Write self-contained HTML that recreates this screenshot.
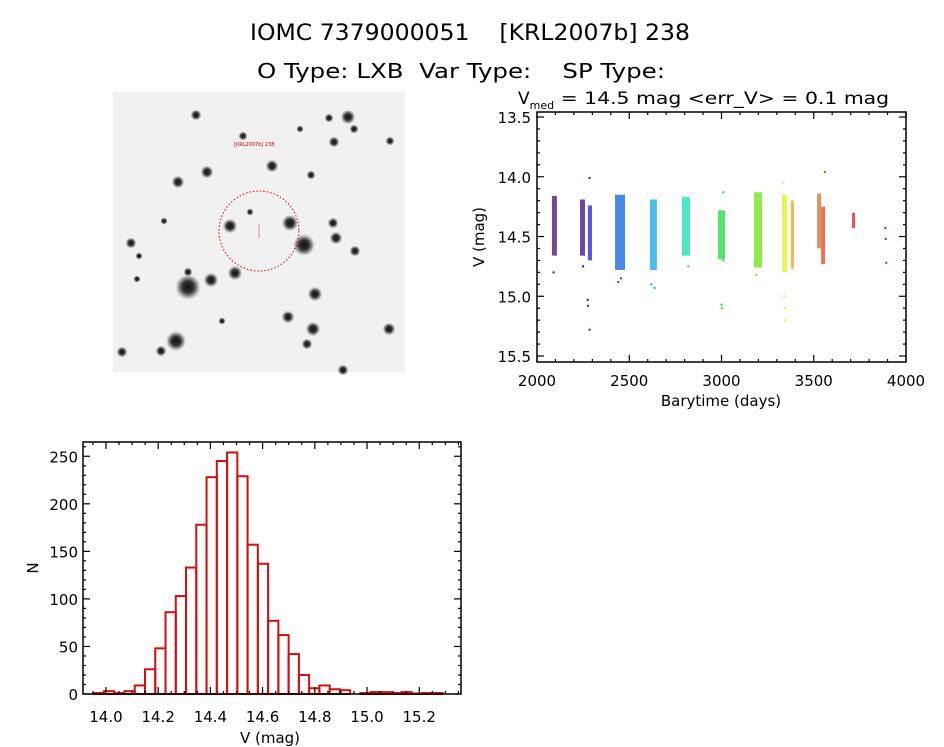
<!DOCTYPE html>
<html><head><meta charset="utf-8"><style>
html,body{margin:0;padding:0;background:#fff}
svg{display:block;font-family:"DejaVu Sans","Liberation Sans",sans-serif}
text{white-space:pre}
</style></head><body>
<svg id="root" width="944" height="747" viewBox="0 0 944 747" xmlns="http://www.w3.org/2000/svg" xml:space="preserve">
<defs>
<radialGradient id="starg"><stop offset="0" stop-color="#111"/><stop offset="0.45" stop-color="#333"/><stop offset="0.75" stop-color="#888" stop-opacity="0.7"/><stop offset="1" stop-color="#ddd" stop-opacity="0"/></radialGradient>
</defs>
<text x="250" y="40" font-size="22" textLength="440" lengthAdjust="spacingAndGlyphs">IOMC 7379000051    [KRL2007b] 238</text>
<text x="257" y="78" font-size="20" textLength="408" lengthAdjust="spacingAndGlyphs">O Type: LXB  Var Type:    SP Type:</text>
<text x="518" y="104" font-size="17">V<tspan font-size="11" dy="5">med</tspan><tspan dy="-5" textLength="335" lengthAdjust="spacingAndGlyphs"> = 14.5 mag &lt;err_V&gt; = 0.1 mag</tspan></text>
<g id="img"></g>
<g id="lc"></g>
<g id="hist"></g>
</svg>
<script>
// ---- light curve data ----
const seasonStart=[2081,2233,2276,2423,2612,2786,2981,3176,3328,3376,3518,3540,3707];
const seasonEnd  =[2108,2260,2298,2477,2650,2829,3019,3220,3355,3393,3540,3561,3724];
const coreLo=[14.16,14.19,14.24,14.15,14.19,14.17,14.28,14.13,14.15,14.20,14.14,14.25,14.30];
const coreHi=[14.66,14.66,14.70,14.78,14.78,14.66,14.69,14.76,14.80,14.77,14.60,14.73,14.43];
const seasonColor=["#4b0a6e","#3a0a8a","#2020d0","#0a60e0","#10a8e8","#10e0b0","#20d840","#70e010","#e0f020","#f0a020","#c87030","#f04010","#d02020"];
const ptTime=[2285,2275,2277,2285,2440,2455,2620,2638,2820,3000,3002,3010,3010,3190,3335,3340,3342,3345,3560,3888,3890,3893,2090,2250];
const ptMag =[14.01,15.03,15.08,15.28,14.88,14.85,14.90,14.93,14.75,15.07,15.10,14.70,14.13,14.82,14.05,15.00,15.10,15.20,13.96,14.43,14.52,14.72,14.80,14.75];
const ptColor=["#2020d0","#3a0a8a","#3a0a8a","#2020d0","#0a60e0","#0a60e0","#10a8e8","#10a8e8","#10e0b0","#20d840","#20d840","#20d840","#20d840","#70e010","#e0f020","#e0f020","#e0f020","#e0f020","#f04010","#c02020","#c02020","#c02020","#4b0a6e","#3a0a8a"];
const lcXTicks=[2000,2500,3000,3500,4000];
const lcYTicks=[13.5,14.0,14.5,15.0,15.5];
// ---- histogram data ----
const binStart=13.953, binWidth=0.0393;
const counts=[1,3,1,3,9,26,48,86,103,133,178,228,245,254,229,157,137,77,62,42,20,6,9,5,4,0,1,2,2,1,2,0.5,1,1];
const hXTicks=[14.0,14.2,14.4,14.6,14.8,15.0,15.2];
const hYTicks=[0,50,100,150,200,250];
// ---- sky image stars ----
const starX=[196,348,329,354,243,300,334,390,272,207,311,178,250,230,290,333,336,304,355,131,139,164,188,211,235,188,315,288,313,389,176,161,122,307,343,222,137];
const starY=[115,117,118,129,136,129,142,141,166,172,175,182,212,226,223,223,238,245,251,243,256,221,287,280,273,272,294,317,329,329,341,351,352,344,370,321,279];
const starR=[3,4,2.5,2.5,2.5,2,3,2.5,3.5,3.5,2.5,3.5,2,4,4.5,3,3.5,6,3,3,2,2,7,4,4,2.5,4,3.5,4,3.5,5.5,3,3,3,3,2,2];

const NS="http://www.w3.org/2000/svg";
function mk(tag,attrs,parent){const e=document.createElementNS(NS,tag);for(const k in attrs)e.setAttribute(k,attrs[k]);parent.appendChild(e);return e;}

// sky image
const img=document.getElementById('img');
let bg=mk('rect',{x:113,y:92,width:292,height:280,fill:'#f1f1f1'},img);


starX.forEach((x,i)=>{
  let c=mk('circle',{cx:x,cy:starY[i],r:starR[i]*1.9,fill:'url(#starg)'},img);
  
  
});
let ap=mk('circle',{cx:259,cy:231,r:40,fill:'none',stroke:'#d00','stroke-width':1,'stroke-dasharray':'1.5,2'},img);


let cr=mk('line',{x1:259,y1:224,x2:259,y2:238,stroke:'#e88','stroke-width':1},img);


let lab=mk('text',{x:234,y:146,'font-size':5,fill:'#c00'},img);lab.textContent='[KRL2007b] 238';



// light curve
const lc=document.getElementById('lc');
const L={x0:537,x1:906,y0:112,y1:362,xmin:2000,xmax:4000,ymin:13.458,ymax:15.55};
const lx=v=>L.x0+(v-L.xmin)/(L.xmax-L.xmin)*(L.x1-L.x0);
const ly=v=>L.y0+(v-L.ymin)/(L.ymax-L.ymin)*(L.y1-L.y0);
seasonStart.forEach((s,i)=>{
  let r=mk('rect',{x:lx(s),y:ly(coreLo[i]),width:Math.max(2,lx(seasonEnd[i])-lx(s)),height:ly(coreHi[i])-ly(coreLo[i]),fill:seasonColor[i],opacity:0.75},lc);
  
  
});
ptTime.forEach((t,i)=>{
  let p=mk('rect',{x:lx(t)-1,y:ly(ptMag[i])-1,width:2,height:2,fill:ptColor[i]},lc);
  
  
});
let lf=mk('rect',{x:L.x0,y:L.y0,width:L.x1-L.x0,height:L.y1-L.y0,fill:'none',stroke:'#000','stroke-width':1.5},lc);


for(let v=2000;v<=4000;v+=100){const X=lx(v),len=(v%500===0)?7:3;
  mk('line',{x1:X,y1:L.y1,x2:X,y2:L.y1-len,stroke:'#000','stroke-width':1.2},lc);
  mk('line',{x1:X,y1:L.y0,x2:X,y2:L.y0+len,stroke:'#000','stroke-width':1.2},lc);}
for(let k=0;k<=20;k++){const v=13.5+k*0.1,Y=ly(v),len=(k%5===0)?7:3;
  mk('line',{x1:L.x0,y1:Y,x2:L.x0+len,y2:Y,stroke:'#000','stroke-width':1.2},lc);
  mk('line',{x1:L.x1,y1:Y,x2:L.x1-len,y2:Y,stroke:'#000','stroke-width':1.2},lc);}
lcXTicks.forEach(v=>{let t=mk('text',{x:lx(v),y:386,'font-size':15,'text-anchor':'middle'},lc);t.textContent=String(v);
  
  });
lcYTicks.forEach(v=>{let t=mk('text',{x:531,y:ly(v)+6,'font-size':15,'text-anchor':'end'},lc);t.textContent=v.toFixed(1);
  
  });
let lxt=mk('text',{x:721,y:406,'font-size':15,'text-anchor':'middle'},lc);lxt.textContent='Barytime (days)';


let lyt=mk('text',{x:0,y:0,'font-size':15,'text-anchor':'middle',transform:'translate(484,237) rotate(-90)'},lc);lyt.textContent='V (mag)';



// histogram
const hg=document.getElementById('hist');
const H={x0:83,x1:461,y0:442,y1:694,xmin:13.912,xmax:15.36,ymin:0,ymax:265};
const hx=v=>H.x0+(v-H.xmin)/(H.xmax-H.xmin)*(H.x1-H.x0);
const hy=v=>H.y1-(v-H.ymin)/(H.ymax-H.ymin)*(H.y1-H.y0);
counts.forEach((c,i)=>{const a=binStart+i*binWidth;
  let b=mk('rect',{x:hx(a),y:hy(c),width:hx(a+binWidth)-hx(a),height:hy(0)-hy(c),fill:'none',stroke:'#d01010','stroke-width':2},hg);
  
  
});
let hf=mk('rect',{x:H.x0,y:H.y0,width:H.x1-H.x0,height:H.y1-H.y0,fill:'none',stroke:'#000','stroke-width':1.5},hg);


for(let k=-1;k<=28;k++){const v=14.0+k*0.05;if(v<H.xmin||v>H.xmax)continue;const X=hx(v),len=(k%4===0)?7:3;
  mk('line',{x1:X,y1:H.y1,x2:X,y2:H.y1-len,stroke:'#000','stroke-width':1.2},hg);
  mk('line',{x1:X,y1:H.y0,x2:X,y2:H.y0+len,stroke:'#000','stroke-width':1.2},hg);}
for(let v=0;v<=260;v+=10){const Y=hy(v),len=(v%50===0)?7:3;
  mk('line',{x1:H.x0,y1:Y,x2:H.x0+len,y2:Y,stroke:'#000','stroke-width':1.2},hg);
  mk('line',{x1:H.x1,y1:Y,x2:H.x1-len,y2:Y,stroke:'#000','stroke-width':1.2},hg);}
hXTicks.forEach(v=>{let t=mk('text',{x:hx(v),y:722,'font-size':15,'text-anchor':'middle'},hg);t.textContent=v.toFixed(1);
  
  });
hYTicks.forEach(v=>{let t=mk('text',{x:78,y:hy(v)+6,'font-size':15,'text-anchor':'end'},hg);t.textContent=String(v);
  
  });
let hxt=mk('text',{x:270,y:743,'font-size':15,'text-anchor':'middle'},hg);hxt.textContent='V (mag)';


let hyt=mk('text',{x:0,y:0,'font-size':15,'text-anchor':'middle',transform:'translate(38,568) rotate(-90)'},hg);hyt.textContent='N';


</script>
</body></html>
